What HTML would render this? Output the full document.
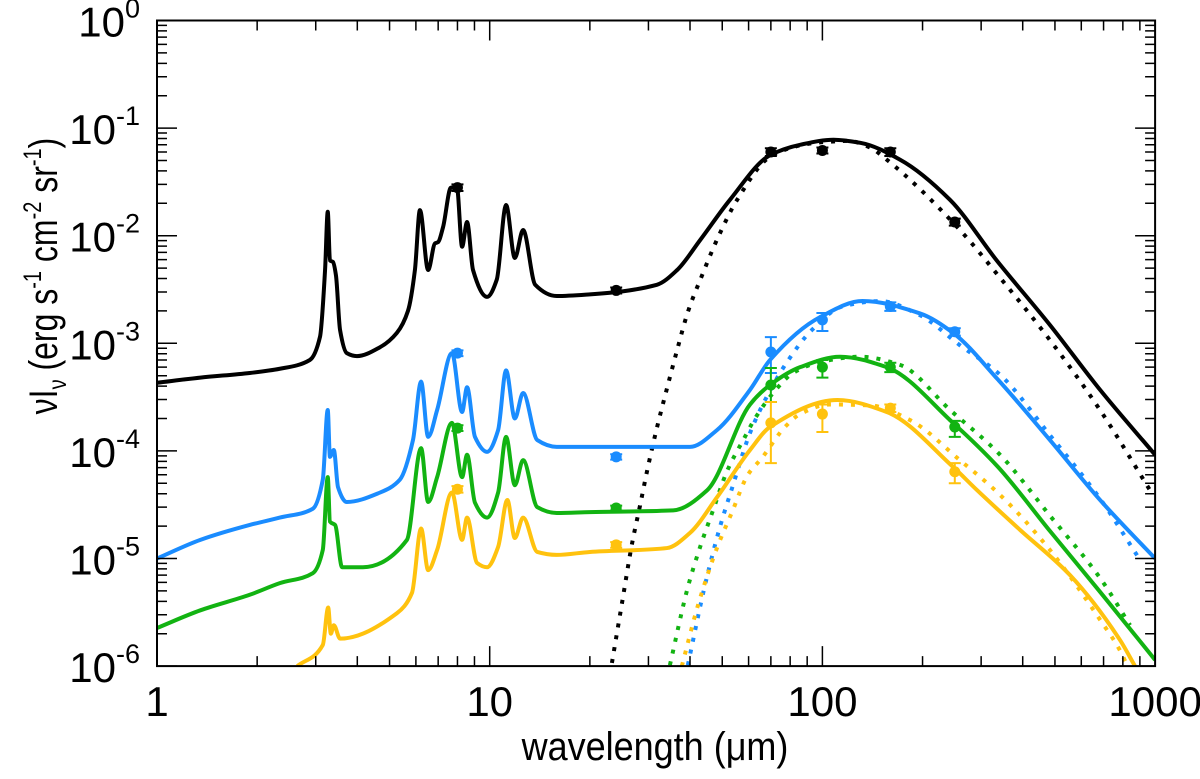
<!DOCTYPE html>
<html><head><meta charset="utf-8"><style>
html,body{margin:0;padding:0;background:#fff;}
svg{display:block;font-family:"Liberation Sans",Arial,sans-serif;}
</style></head><body>
<svg id="chart" width="1200" height="779" viewBox="0 0 1200 779" xmlns="http://www.w3.org/2000/svg">
<defs><clipPath id="plotclip"><rect x="157" y="20.5" width="998" height="645.6"/></clipPath></defs>
<g id="marks" clip-path="url(#plotclip)"></g>
<g id="axes"></g>
<text transform="translate(655,760) scale(0.9,1)" font-size="40" text-anchor="middle">wavelength (μm)</text>
<text transform="translate(57,276) rotate(-90) scale(0.8,1)" font-size="40" text-anchor="middle">νI<tspan font-size="25" dy="9">ν</tspan><tspan dy="-9"> (erg s</tspan><tspan font-size="25" dy="-16">-1</tspan><tspan dy="16"> cm</tspan><tspan font-size="25" dy="-16">-2</tspan><tspan dy="16"> sr</tspan><tspan font-size="25" dy="-16">-1</tspan><tspan dy="16">)</tspan></text>
</svg>
<script>
// ---- data ----
const xTicks = [1, 10, 100, 1000];
const xTickLabels = ["1", "10", "100", "1000"];
const yExps = [0, -1, -2, -3, -4, -5, -6];

const blackLam = [1,1.35,1.9,2.34,2.88,3.09,3.2,3.26,3.31,3.38,3.45,3.55,3.72,3.99,4.68,5.26,5.68,5.96,6.17,6.53,6.85,6.99,7.24,7.65,7.97,8.26,8.55,8.91,9.82,10.5,11.2,11.9,12.6,13.7,15.9,20,31.8,36.6,42.9,52.7,69.6,85.7,108,130,171,242,334,483,683,1000];
const blackVal = [4.3e-4,4.8e-4,5.3e-4,5.8e-4,7.0e-4,1.15e-3,4.8e-3,1.67e-2,5.9e-3,5.7e-3,4.3e-3,1.33e-3,8.1e-4,7.6e-4,9.2e-4,1.25e-3,2.0e-3,4.8e-3,1.73e-2,4.8e-3,8.5e-3,8.7e-3,1.2e-2,2.8e-2,2.8e-2,7.9e-3,1.34e-2,4.8e-3,2.7e-3,3.9e-3,1.93e-2,6.2e-3,1.13e-2,3.5e-3,2.75e-3,2.85e-3,3.5e-3,4.8e-3,9.1e-3,2.15e-2,5.6e-2,7.0e-2,7.8e-2,7.3e-2,5.1e-2,2.15e-2,5.9e-3,1.48e-3,3.7e-4,9.2e-5];
const blackBBLam = [23.3,25.0,26.8,28.3,29.9,31.8,34.1,36.6,39.4,43.5,48.6,55.4,69.6,85.7,100,120,139,156,259,337,483,683,966];
const blackBBVal = [1.07e-6,3.9e-6,1.39e-5,3.1e-5,7.1e-5,1.63e-4,3.8e-4,8.7e-4,1.95e-3,4.3e-3,9.7e-3,2.15e-2,5.4e-2,6.9e-2,7.4e-2,7.6e-2,6.6e-2,5.1e-2,1.13e-2,4.3e-3,1.07e-3,2.4e-4,4.3e-5];

const blueLam = [1,1.35,1.9,2.34,2.94,3.15,3.26,3.31,3.4,3.5,3.72,4.68,5.37,5.88,6.22,6.53,6.95,7.7,8.26,8.55,9.03,9.82,10.6,11.2,11.9,12.6,13.9,15.9,20,40,48.2,60.6,69.6,98.4,132,196,247,337,483,683,1000];
const blueVal = [1.0e-5,1.49e-5,2.05e-5,2.4e-5,2.9e-5,5.4e-5,2.4e-4,8.8e-5,1.02e-4,4.6e-5,3.35e-5,4.1e-5,5.4e-5,1.26e-4,4.4e-4,1.35e-4,2.4e-4,8.1e-4,2.3e-4,3.9e-4,1.35e-4,9.8e-5,1.56e-4,5.6e-4,2.0e-4,3.45e-4,1.26e-4,1.09e-4,1.09e-4,1.09e-4,1.56e-4,3.7e-4,7.0e-4,1.75e-3,2.47e-3,1.9e-3,1.25e-3,4.6e-4,1.26e-4,3.5e-5,1.0e-5];
const blueBBLam = [39.4,44.4,49.2,53.5,60.6,68.1,78.3,93.0,115,149,196,259,342,483,683,901];
const blueBBVal = [1.02e-6,5.7e-6,1.96e-5,4.5e-5,1.47e-4,3.2e-4,6.7e-4,1.33e-3,2.2e-3,2.47e-3,1.83e-3,9.6e-4,5.1e-4,1.4e-4,3.6e-5,9.7e-6];

const greenLam = [1,1.35,1.9,2.34,2.94,3.15,3.26,3.31,3.43,3.6,4.16,5.64,6.22,6.53,6.95,7.7,8.26,8.55,9.03,9.82,10.6,11.2,11.9,12.6,13.9,15.9,20,35.6,45.0,60.6,69.6,85.7,113,156,247,337,483,683,1000];
const greenVal = [2.26e-6,3.3e-6,4.6e-6,5.9e-6,7.3e-6,1.2e-5,5.7e-5,2.2e-5,2.05e-5,8.3e-6,8.3e-6,1.49e-5,1.06e-4,3.35e-5,5.7e-5,1.82e-4,5.7e-5,9.2e-5,3.3e-5,2.4e-5,4.1e-5,1.35e-4,4.8e-5,8.2e-5,3.0e-5,2.65e-5,2.7e-5,2.8e-5,4.3e-5,2.7e-4,4.1e-4,6.0e-4,7.5e-4,6.0e-4,1.82e-4,7.1e-5,1.8e-5,4.9e-6,1.14e-6];
const greenBBLam = [34.8,39.4,42.9,46.9,51.6,58.5,62.7,73.5,81.6,98.4,130,171,242,342,483,683,841];
const greenBBVal = [1.02e-6,5.4e-6,1.28e-5,2.8e-5,6.4e-5,1.35e-4,2.0e-4,3.9e-4,5.3e-4,6.7e-4,7.5e-4,6.3e-4,2.4e-4,9.2e-5,2.5e-5,6.6e-6,2.4e-6];

const yellowLam = [2.64,3.15,3.27,3.33,3.4,3.55,5.26,5.84,6.22,6.53,6.95,7.7,8.26,8.55,9.16,9.82,10.6,11.3,11.9,12.6,13.9,15.9,20,34.1,40.0,48.2,60.6,69.6,111,156,247,292,393,555,784,870];
const yellowVal = [1.0e-6,1.57e-6,3.5e-6,2.0e-6,2.4e-6,1.8e-6,3.1e-6,4.8e-6,1.9e-5,7.8e-6,1.2e-5,4.1e-5,1.49e-5,2.4e-5,9.1e-6,8.3e-6,1.28e-5,3.5e-5,1.55e-5,2.4e-5,1.15e-5,1.08e-5,1.15e-5,1.25e-5,1.73e-5,3.7e-5,1.02e-4,1.67e-4,2.97e-4,2.3e-4,7.1e-5,4.3e-5,1.84e-5,7.0e-6,1.75e-6,1.0e-6];
const yellowBBLam = [37.8,42.3,48.2,53.5,59.7,65.8,77.2,85.7,105,139,183,259,342,483,683,784,826];
const yellowBBVal = [1.0e-6,3.7e-6,1.25e-5,2.7e-5,6.0e-5,8.6e-5,1.67e-4,2.2e-4,2.7e-4,2.65e-4,1.94e-4,8.2e-5,3.9e-5,1.2e-5,2.7e-6,1.4e-6,1.0e-6];

const obsLam = [8, 24, 70, 100, 160, 250];
const blackObs = [2.8e-2, 3.1e-3, 6.0e-2, 6.2e-2, 6.0e-2, 1.34e-2];
const blackLo  = [2.6e-2, 2.9e-3, 5.5e-2, 5.8e-2, 5.5e-2, 1.24e-2];
const blackHi  = [3.0e-2, 3.3e-3, 6.5e-2, 6.6e-2, 6.5e-2, 1.44e-2];
const blueObs = [8.1e-4, 8.8e-5, 8.3e-4, 1.65e-3, 2.2e-3, 1.28e-3];
const blueLo  = [7.6e-4, 8.3e-5, 5.3e-4, 1.3e-3, 2.0e-3, 1.18e-3];
const blueHi  = [8.6e-4, 9.3e-5, 1.14e-3, 1.91e-3, 2.4e-3, 1.38e-3];
const greenObs = [1.63e-4, 2.95e-5, 4.1e-4, 6.0e-4, 6.0e-4, 1.67e-4];
const greenLo  = [1.53e-4, 2.8e-5, 2.85e-4, 4.8e-4, 5.4e-4, 1.35e-4];
const greenHi  = [1.73e-4, 3.1e-5, 5.9e-4, 7.0e-4, 6.6e-4, 1.9e-4];
const yellowObs = [4.4e-5, 1.34e-5, 1.82e-4, 2.2e-4, 2.5e-4, 6.4e-5];
const yellowLo  = [4.1e-5, 1.26e-5, 7.7e-5, 1.5e-4, 2.3e-4, 5.0e-5];
const yellowHi  = [4.7e-5, 1.42e-5, 2.85e-4, 2.7e-4, 2.7e-4, 7.7e-5];

// ---- scales ----
const X0 = 157, XDEC = 332.7, Y0 = 20.5, YDEC = 107.6;
function xs(l){ return X0 + XDEC*Math.log10(l); }
function ys(v){ return Y0 - YDEC*Math.log10(v); }
const NS = "http://www.w3.org/2000/svg";
const marks = document.getElementById('marks');
const axes = document.getElementById('axes');
function mk(tag, parent){ const e = document.createElementNS(NS, tag); parent.appendChild(e); return e; }

// monotone cubic (Fritsch-Carlson) path through points sorted by x
function monoPath(pts){
  const n = pts.length;
  const dx = [], m = [], t = new Array(n);
  for (let i=0;i<n-1;i++){ dx.push(pts[i+1][0]-pts[i][0]); m.push((pts[i+1][1]-pts[i][1])/dx[i]); }
  t[0] = m[0]; t[n-1] = m[n-2];
  for (let i=1;i<n-1;i++){
    if (m[i-1]*m[i] <= 0) t[i] = 0;
    else { const w1 = 2*dx[i]+dx[i-1], w2 = dx[i]+2*dx[i-1]; t[i] = (w1+w2)/(w1/m[i-1]+w2/m[i]); }
  }
  let d = "M" + pts[0][0].toFixed(2) + "," + pts[0][1].toFixed(2);
  for (let i=0;i<n-1;i++){
    const h = dx[i]/3;
    d += " C" + (pts[i][0]+h).toFixed(2)+","+(pts[i][1]+t[i]*h).toFixed(2)+" "+(pts[i+1][0]-h).toFixed(2)+","+(pts[i+1][1]-t[i+1]*h).toFixed(2)+" "+pts[i+1][0].toFixed(2)+","+pts[i+1][1].toFixed(2);
  }
  return d;
}
function drawCurve(lam, val, color, dotted, name){
  const pts = lam.map((l,i)=>[xs(l), ys(val[i])]);
  const p = mk('path', marks);
  p.setAttribute('d', monoPath(pts));
  p.setAttribute('fill', 'none');
  p.setAttribute('stroke', color);
  p.setAttribute('stroke-width', '4');
  if (dotted){ p.setAttribute('stroke-dasharray', '4 8'); }
  else { p.setAttribute('stroke-linejoin', 'round'); }
  
  
}
function drawObs(obs, lo, hi, color, name){
  const g = mk('g', marks);
  
  
  obs.forEach((v,i)=>{
    const x = xs(obsLam[i]);
    const l = mk('path', g);
    const y1 = ys(lo[i]), y2 = ys(hi[i]);
    l.setAttribute('d', `M${x},${y1} V${y2} M${x-6},${y1} H${x+6} M${x-6},${y2} H${x+6}`);
    l.setAttribute('stroke', color);
    l.setAttribute('stroke-width', '2');
    l.setAttribute('fill', 'none');
    
    
    const c = mk('circle', g);
    c.setAttribute('cx', x); c.setAttribute('cy', ys(v)); c.setAttribute('r', '5.5');
    c.setAttribute('fill', color);
    
    
  });
}
const cBlack = '#000', cBlue = '#1a8cff', cGreen = '#12b312', cYellow = '#ffc20e';
drawCurve(blackBBLam, blackBBVal, cBlack, true, 'black-dust-model-dotted');
drawCurve(blueBBLam, blueBBVal, cBlue, true, 'blue-dust-model-dotted');
drawCurve(greenBBLam, greenBBVal, cGreen, true, 'green-dust-model-dotted');
drawCurve(yellowBBLam, yellowBBVal, cYellow, true, 'yellow-dust-model-dotted');
drawCurve(blackLam, blackVal, cBlack, false, 'black-total-model');
drawCurve(blueLam, blueVal, cBlue, false, 'blue-total-model');
drawCurve(greenLam, greenVal, cGreen, false, 'green-total-model');
drawCurve(yellowLam, yellowVal, cYellow, false, 'yellow-total-model');
drawObs(blackObs, blackLo, blackHi, cBlack, 'black-observations');
drawObs(blueObs, blueLo, blueHi, cBlue, 'blue-observations');
drawObs(greenObs, greenLo, greenHi, cGreen, 'green-observations');
drawObs(yellowObs, yellowLo, yellowHi, cYellow, 'yellow-observations');

// ---- axes ----
const XL = xs(1), XR = xs(1000), YT = ys(1), YB = ys(1e-6);
const frame = mk('rect', axes);
frame.setAttribute('x', XL); frame.setAttribute('y', YT);
frame.setAttribute('width', XR-XL); frame.setAttribute('height', YB-YT);
frame.setAttribute('fill', 'none'); frame.setAttribute('stroke', '#000'); frame.setAttribute('stroke-width', '2');


let td = "";
for (let d=0; d<3; d++){
  for (let k=1; k<10; k++){
    const x = xs(Math.pow(10,d)*k);
    const len = (k===1)?20:10;
    td += `M${x},${YB} V${YB-len} M${x},${YT} V${YT+len} `;
  }
}
for (let e=-6; e<0; e++){
  for (let k=1; k<10; k++){
    const y = ys(k*Math.pow(10,e));
    const len = (k===1)?20:10;
    td += `M${XL},${y} H${XL+len} M${XR},${y} H${XR-len} `;
  }
}
const ticks = mk('path', axes);
ticks.setAttribute('d', td);
ticks.setAttribute('stroke', '#000'); ticks.setAttribute('stroke-width', '1.5');


xTicks.forEach((v,i)=>{
  const t = mk('text', axes);
  t.setAttribute('x', xs(v)); t.setAttribute('y', 716);
  t.setAttribute('font-size', '42'); t.setAttribute('text-anchor', 'middle');
  t.textContent = xTickLabels[i];
  
  
});
yExps.forEach(e=>{
  const t = mk('text', axes);
  t.setAttribute('x', 140); t.setAttribute('y', ys(Math.pow(10,e))+16);
  t.setAttribute('font-size', '42'); t.setAttribute('text-anchor', 'end');
  t.innerHTML = '10<tspan font-size="27" dy="-19">' + e + '</tspan>';
  
  
});
</script>
</body></html>
